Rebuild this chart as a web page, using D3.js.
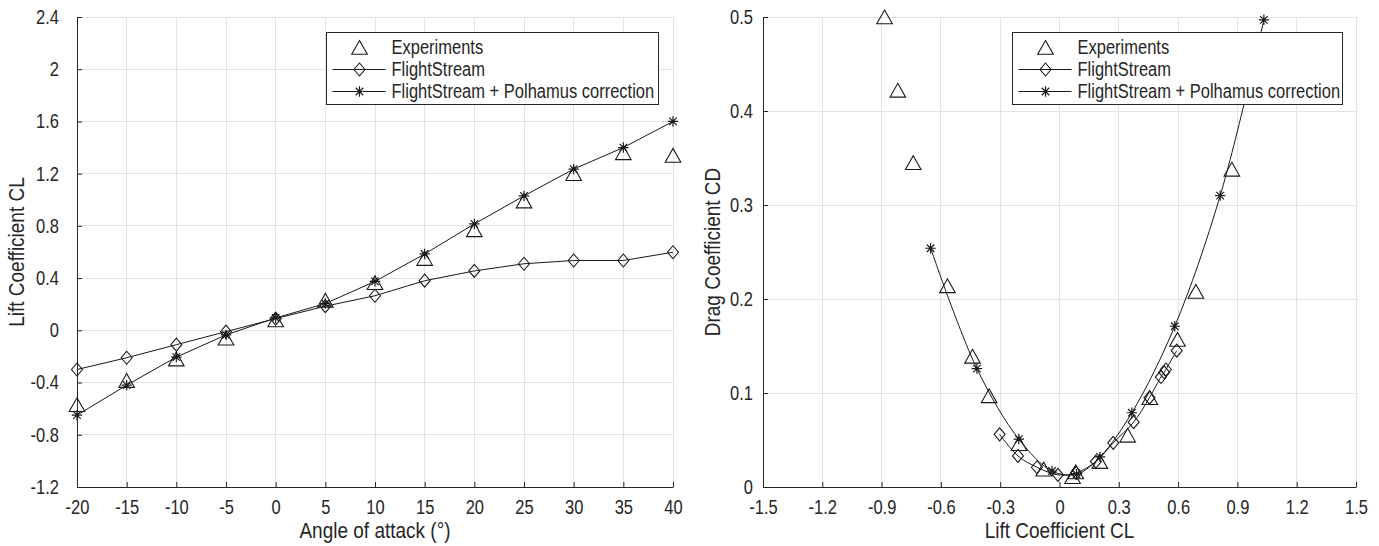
<!DOCTYPE html>
<html>
<head>
<meta charset="utf-8">
<script src="https://cdn.jsdelivr.net/npm/d3@7"></script>
<style>
  html, body { margin: 0; padding: 0; background: #fff; }
  svg { display: block; }
  text { font-family: "Liberation Sans", Arial, Helvetica, sans-serif; fill: #262626; }
  text.tall { transform-box: fill-box; transform-origin: center; transform: scaleY(1.2); }
  text.tallrot { transform-box: fill-box; transform-origin: center; }
</style>
</head>
<body>
<svg id="chart" width="1379" height="546"></svg>
<script>
// ---------- Left panel data: CL vs angle of attack ----------
const alphaDeg = [-20, -15, -10, -5, 0, 5, 10, 15, 20, 25, 30, 35, 40];
const clExperiments = [-0.57, -0.385, -0.22, -0.06, 0.08, 0.23, 0.365, 0.55, 0.77, 0.99, 1.20, 1.36, 1.34];
const clFlightStream = [-0.30, -0.21, -0.11, -0.01, 0.09, 0.185, 0.265, 0.38, 0.455, 0.51, 0.535, 0.535, 0.598];
const clPolhamus = [-0.65, -0.42, -0.205, -0.035, 0.095, 0.205, 0.375, 0.585, 0.815, 1.03, 1.235, 1.40, 1.60];
const alphaTicks = [-20, -15, -10, -5, 0, 5, 10, 15, 20, 25, 30, 35, 40];
const clTicksLeft = [-1.2, -0.8, -0.4, 0, 0.4, 0.8, 1.2, 1.6, 2, 2.4];

// ---------- Right panel data: CD vs CL (drag polar) ----------
const expCL = [-0.885, -0.818, -0.740, -0.567, -0.440, -0.356, -0.205, -0.080, 0.066, 0.082, 0.204, 0.345, 0.457, 0.597, 0.690, 0.872];
const expCD = [0.500, 0.422, 0.345, 0.214, 0.139, 0.097, 0.046, 0.019, 0.011, 0.016, 0.027, 0.055, 0.095, 0.157, 0.208, 0.338];
const fsCL = [-0.303, -0.210, -0.114, -0.008, 0.085, 0.184, 0.272, 0.375, 0.455, 0.513, 0.530, 0.538, 0.593];
const fsCD = [0.056, 0.033, 0.021, 0.013, 0.015, 0.027, 0.047, 0.069, 0.095, 0.117, 0.122, 0.125, 0.145];
const polCL = [-0.652, -0.418, -0.206, -0.038, 0.086, 0.205, 0.366, 0.583, 0.813, 1.034];
const polCD = [0.254, 0.126, 0.051, 0.017, 0.0135, 0.032, 0.079, 0.171, 0.310, 0.497];
const clTicksRight = [-1.5, -1.2, -0.9, -0.6, -0.3, 0, 0.3, 0.6, 0.9, 1.2, 1.5];
const cdTicks = [0, 0.1, 0.2, 0.3, 0.4, 0.5];

const legendLabels = ["Experiments", "FlightStream", "FlightStream + Polhamus correction"];

// ---------- styles ----------
const AXIS = "#262626", GRID = "#e3e3e3", LINE = "#1a1a1a";
const TICK_FS = 16.5, LABEL_FS = 19;

const svg = d3.select("#chart");

// marker drawers
function triangle(g, x, y) {
  g.append("path")
    .attr("d", `M${x},${y - 7} L${x + 7.8},${y + 6.8} L${x - 7.8},${y + 6.8} Z`)
    .attr("fill", "none").attr("stroke", LINE).attr("stroke-width", 1.1);
}
function diamond(g, x, y) {
  g.append("path")
    .attr("d", `M${x},${y - 6.5} L${x + 5.5},${y} L${x},${y + 6.5} L${x - 5.5},${y} Z`)
    .attr("fill", "none").attr("stroke", LINE).attr("stroke-width", 1.1);
}
function star(g, x, y) {
  const r = 5.2, d = r * 0.72;
  g.append("path")
    .attr("d", `M${x},${y - r}V${y + r}M${x - r},${y}H${x + r}M${x - d},${y - d}L${x + d},${y + d}M${x - d},${y + d}L${x + d},${y - d}`)
    .attr("fill", "none").attr("stroke", LINE).attr("stroke-width", 1.2);
}

function panel(opts) {
  const { x0, x1, y0, y1, xDomain, yDomain, xTicks, yTicks, xFmt, yFmt, xLabel, yLabel, yLabelX, tickLabelGap } = opts;
  const g = svg.append("g");
  const x = d3.scaleLinear().domain(xDomain).range([x0, x1]);
  const y = d3.scaleLinear().domain(yDomain).range([y1, y0]);

  // grid
  g.append("g").selectAll("line").data(xTicks).join("line")
    .attr("x1", d => x(d)).attr("x2", d => x(d)).attr("y1", y0).attr("y2", y1)
    .attr("stroke", GRID).attr("stroke-width", 1).attr("shape-rendering", "crispEdges");
  g.append("g").selectAll("line").data(yTicks).join("line")
    .attr("x1", x0).attr("x2", x1).attr("y1", d => y(d)).attr("y2", d => y(d))
    .attr("stroke", GRID).attr("stroke-width", 1).attr("shape-rendering", "crispEdges");

  // axes (inward ticks)
  const xAxis = d3.axisBottom(x).tickValues(xTicks).tickFormat(xFmt).tickSizeInner(-5).tickSizeOuter(0).tickPadding(14);
  const gx = g.append("g").attr("transform", `translate(0,${y1})`).call(xAxis);
  gx.select(".domain").attr("stroke", AXIS);
  gx.selectAll(".tick line").attr("stroke", AXIS);
  gx.selectAll(".tick text").attr("font-size", TICK_FS).attr("fill", AXIS)
    .attr("font-family", "Liberation Sans, Arial, sans-serif").attr("class", "tall");

  const yAxis = d3.axisLeft(y).tickValues(yTicks).tickFormat(yFmt).tickSizeInner(-5).tickSizeOuter(0).tickPadding(tickLabelGap);
  const gy = g.append("g").attr("transform", `translate(${x0},0)`).call(yAxis);
  gy.select(".domain").attr("stroke", AXIS);
  gy.selectAll(".tick line").attr("stroke", AXIS);
  gy.selectAll(".tick text").attr("font-size", TICK_FS).attr("fill", AXIS)
    .attr("font-family", "Liberation Sans, Arial, sans-serif").attr("class", "tall");

  // axis labels
  g.append("text").attr("class", "tall").attr("x", (x0 + x1) / 2).attr("y", 537)
    .attr("text-anchor", "middle").attr("font-size", LABEL_FS).text(xLabel);
  g.append("text")
    .attr("transform", `translate(${yLabelX},${(y0 + y1) / 2}) rotate(-90) scale(1,1.2)`)
    .attr("text-anchor", "middle").attr("dominant-baseline", "central").attr("font-size", LABEL_FS).text(yLabel);

  return { g, x, y };
}

function legend(g, bx, by, bw, bh) {
  const lg = g.append("g");
  lg.append("rect").attr("x", bx).attr("y", by).attr("width", bw).attr("height", bh)
    .attr("fill", "#fff").attr("stroke", AXIS).attr("stroke-width", 1);
  const rows = [by + 15, by + 37, by + 59];
  const mx = bx + 33;
  legendLabels.forEach((lab, i) => {
    if (i > 0) {
      lg.append("line").attr("x1", bx + 6).attr("x2", bx + 59).attr("y1", rows[i]).attr("y2", rows[i])
        .attr("stroke", LINE).attr("stroke-width", 1);
    }
    if (i === 0) triangle(lg, mx, rows[i]);
    if (i === 1) diamond(lg, mx, rows[i]);
    if (i === 2) star(lg, mx, rows[i]);
    lg.append("text").attr("class", "tall").attr("x", bx + 65).attr("y", rows[i]).attr("dominant-baseline", "central")
      .attr("font-size", TICK_FS).text(lab);
  });
}

// ---------- Left panel ----------
const L = panel({
  x0: 77, x1: 673, y0: 17, y1: 487,
  xDomain: [-20, 40], yDomain: [-1.2, 2.4],
  xTicks: alphaTicks, yTicks: clTicksLeft,
  xFmt: d => String(d), yFmt: d => String(d),
  xLabel: "Angle of attack (°)", yLabel: "Lift Coefficient CL", yLabelX: 16, tickLabelGap: 18
});
{
  const lineL = d3.line().x(d => L.x(d[0])).y(d => L.y(d[1]));
  const fsPts = alphaDeg.map((a, i) => [a, clFlightStream[i]]);
  const polPts = alphaDeg.map((a, i) => [a, clPolhamus[i]]);
  const expPts = alphaDeg.map((a, i) => [a, clExperiments[i]]);
  L.g.append("path").attr("d", lineL(fsPts)).attr("fill", "none").attr("stroke", LINE).attr("stroke-width", 1);
  L.g.append("path").attr("d", lineL(polPts)).attr("fill", "none").attr("stroke", LINE).attr("stroke-width", 1);
  expPts.forEach(p => triangle(L.g, L.x(p[0]), L.y(p[1])));
  fsPts.forEach(p => diamond(L.g, L.x(p[0]), L.y(p[1])));
  polPts.forEach(p => star(L.g, L.x(p[0]), L.y(p[1])));
  legend(L.g, 326.5, 32.5, 332, 72);
}

// ---------- Right panel ----------
const R = panel({
  x0: 763, x1: 1356, y0: 17, y1: 487,
  xDomain: [-1.5, 1.5], yDomain: [0, 0.5],
  xTicks: clTicksRight, yTicks: cdTicks,
  xFmt: d => String(d), yFmt: d => String(d),
  xLabel: "Lift Coefficient CL", yLabel: "Drag Coefficient CD", yLabelX: 712, tickLabelGap: 10
});
{
  const lineR = d3.line().x(d => R.x(d[0])).y(d => R.y(d[1])).curve(d3.curveCatmullRom.alpha(0.5));
  const fsPts = fsCL.map((c, i) => [c, fsCD[i]]);
  const polPts = polCL.map((c, i) => [c, polCD[i]]);
  const expPts = expCL.map((c, i) => [c, expCD[i]]);
  R.g.append("path").attr("d", lineR(fsPts)).attr("fill", "none").attr("stroke", LINE).attr("stroke-width", 1);
  R.g.append("path").attr("d", lineR(polPts)).attr("fill", "none").attr("stroke", LINE).attr("stroke-width", 1);
  fsPts.forEach(p => diamond(R.g, R.x(p[0]), R.y(p[1])));
  polPts.forEach(p => star(R.g, R.x(p[0]), R.y(p[1])));
  legend(R.g, 1012.5, 32.5, 330, 72);
  expPts.forEach(p => triangle(R.g, R.x(p[0]), R.y(p[1])));
}
</script>
</body>
</html>
